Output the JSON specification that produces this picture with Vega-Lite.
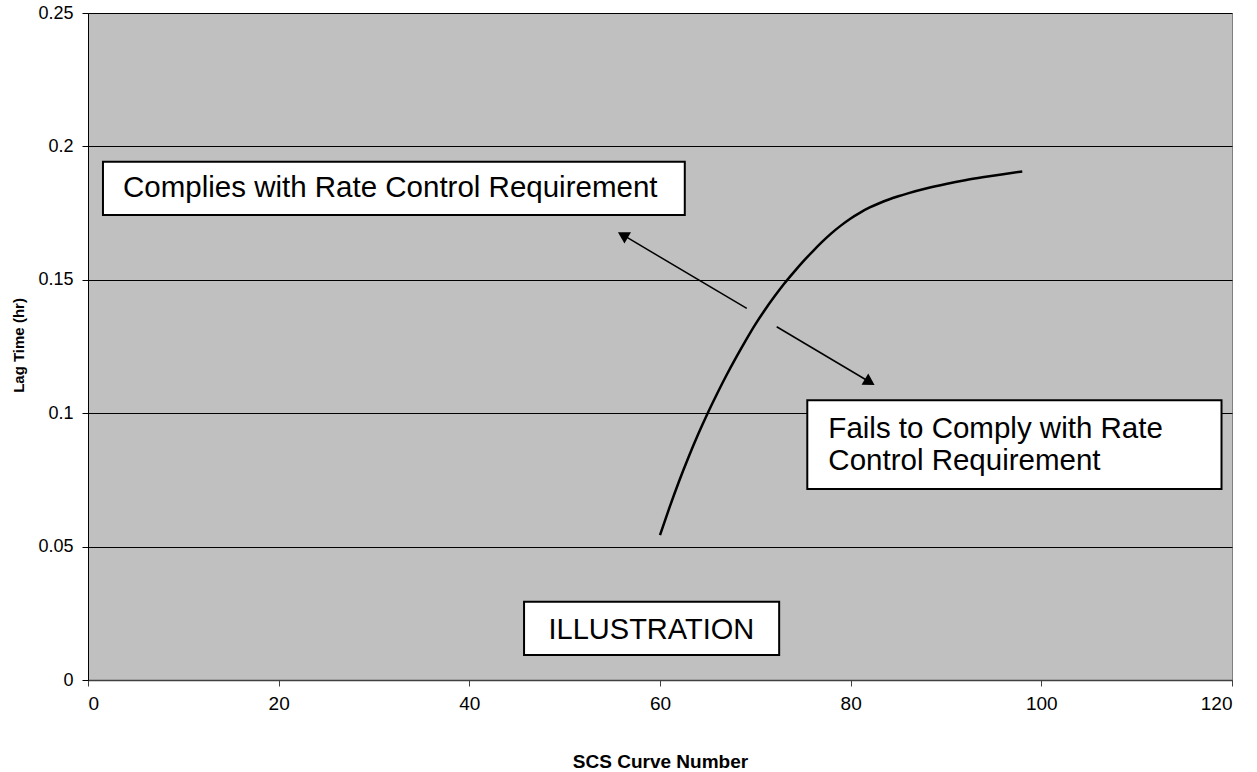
{
  "$schema": "https://vega.github.io/schema/vega-lite/v6.json",
  "autosize": "none",
  "width": 1144,
  "height": 667,
  "padding": {"left": 88, "top": 13, "right": 25, "bottom": 92},
  "background": "white",
  "config": {
    "font": "Liberation Sans",
    "view": {"fill": "#C0C0C0", "stroke": "#808080", "strokeWidth": 1}
  },
  "datasets": {
    "curve": [
      {"x": 60, "y": 0.0543}, {"x": 61, "y": 0.0647}, {"x": 62, "y": 0.0745}, {"x": 63, "y": 0.0836},
      {"x": 64, "y": 0.0921}, {"x": 65, "y": 0.1}, {"x": 66, "y": 0.1074}, {"x": 67, "y": 0.1144},
      {"x": 68, "y": 0.121}, {"x": 69, "y": 0.1273}, {"x": 70, "y": 0.1333}, {"x": 71, "y": 0.1387},
      {"x": 72, "y": 0.1437}, {"x": 73, "y": 0.1484}, {"x": 74, "y": 0.1527}, {"x": 75, "y": 0.1568},
      {"x": 76, "y": 0.1606}, {"x": 77, "y": 0.1642}, {"x": 78, "y": 0.1675}, {"x": 79, "y": 0.1704},
      {"x": 80, "y": 0.173}, {"x": 81, "y": 0.1752}, {"x": 82, "y": 0.1771}, {"x": 83, "y": 0.1787},
      {"x": 84, "y": 0.1801}, {"x": 85, "y": 0.1813}, {"x": 86, "y": 0.1824}, {"x": 88, "y": 0.1843},
      {"x": 90, "y": 0.1859}, {"x": 92, "y": 0.1873}, {"x": 94, "y": 0.1885}, {"x": 96, "y": 0.1896},
      {"x": 98, "y": 0.1906}
    ],
    "arrows": [
      {"x": 69.1, "y": 0.1393, "x2": 56.1, "y2": 0.1668},
      {"x": 72.24, "y": 0.1324, "x2": 82.0, "y2": 0.1117}
    ],
    "boxes": [
      {"x": 1.57, "x2": 62.6, "y": 0.1942, "y2": 0.1743},
      {"x": 75.45, "x2": 118.9, "y": 0.1049, "y2": 0.0716},
      {"x": 45.74, "x2": 72.5, "y": 0.02935, "y2": 0.00937}
    ],
    "leftLabels": [
      {"x": 3.67, "y": 0.1844, "label": "Complies with Rate Control Requirement"},
      {"x": 77.66, "y": 0.0941, "label": "Fails to Comply with Rate"},
      {"x": 77.66, "y": 0.0821, "label": "Control Requirement"}
    ],
    "centerLabels": [
      {"x": 59.1, "y": 0.0186, "label": "ILLUSTRATION"}
    ]
  },
  "encoding": {
    "x": {
      "field": "x", "type": "quantitative",
      "scale": {"domain": [0, 120], "nice": false, "zero": false},
      "axis": {
        "title": "SCS Curve Number", "values": [0, 20, 40, 60, 80, 100, 120],
        "grid": false, "domainColor": "#404040", "domainWidth": 1.5,
        "tickColor": "#404040", "tickSize": 6, "labelFontSize": 19, "labelColor": "black",
        "labelPadding": 8, "labelFont": "Liberation Sans",
        "titleFont": "Liberation Sans", "titleFontSize": 19, "titleFontWeight": "bold",
        "titleColor": "black", "titleY": 81, "titleBaseline": "middle"
      }
    },
    "y": {
      "field": "y", "type": "quantitative",
      "scale": {"domain": [0, 0.25], "nice": false, "zero": false},
      "axis": {
        "title": "Lag Time (hr)", "values": [0, 0.05, 0.1, 0.15, 0.2, 0.25],
        "labelExpr": "datum.value == 0 ? '0' : format(datum.value, '.2~f')",
        "grid": true, "gridColor": "black", "gridWidth": 1, "gridOpacity": 1,
        "domainColor": "black", "tickColor": "black", "tickSize": 6,
        "labelFontSize": 18, "labelColor": "black", "labelPadding": 9,
        "labelFont": "Liberation Sans",
        "titleFont": "Liberation Sans", "titleFontSize": 15, "titleFontWeight": "bold",
        "titleColor": "black", "titleX": -70, "titleY": 332, "titleBaseline": "middle", "titleAngle": 270
      }
    }
  },
  "layer": [
    {
      "data": {"name": "curve"},
      "mark": {"type": "line", "color": "black", "strokeWidth": 2.5, "interpolate": "monotone"}
    },
    {
      "data": {"name": "arrows"},
      "mark": {"type": "rule", "color": "black", "strokeWidth": 1.5},
      "encoding": {"x2": {"field": "x2"}, "y2": {"field": "y2"}}
    },
    {
      "data": {"name": "arrows"},
      "transform": [{"filter": "datum.x < 70"}],
      "mark": {"type": "point", "shape": "triangle-up", "filled": true, "color": "black", "opacity": 1, "size": 170, "angle": 300},
      "encoding": {"x": {"field": "x2", "type": "quantitative"}, "y": {"field": "y2", "type": "quantitative"}}
    },
    {
      "data": {"name": "arrows"},
      "transform": [{"filter": "datum.x > 70"}],
      "mark": {"type": "point", "shape": "triangle-up", "filled": true, "color": "black", "opacity": 1, "size": 170, "angle": 121},
      "encoding": {"x": {"field": "x2", "type": "quantitative"}, "y": {"field": "y2", "type": "quantitative"}}
    },
    {
      "data": {"name": "boxes"},
      "mark": {"type": "rect", "fill": "white", "stroke": "black", "strokeWidth": 2},
      "encoding": {"x2": {"field": "x2"}, "y2": {"field": "y2"}}
    },
    {
      "data": {"name": "leftLabels"},
      "mark": {"type": "text", "align": "left", "baseline": "middle", "fontSize": 29.5, "font": "Liberation Sans", "color": "black"},
      "encoding": {"text": {"field": "label"}}
    },
    {
      "data": {"name": "centerLabels"},
      "mark": {"type": "text", "align": "center", "baseline": "middle", "fontSize": 29, "font": "Liberation Sans", "color": "black"},
      "encoding": {"text": {"field": "label"}}
    }
  ]
}
